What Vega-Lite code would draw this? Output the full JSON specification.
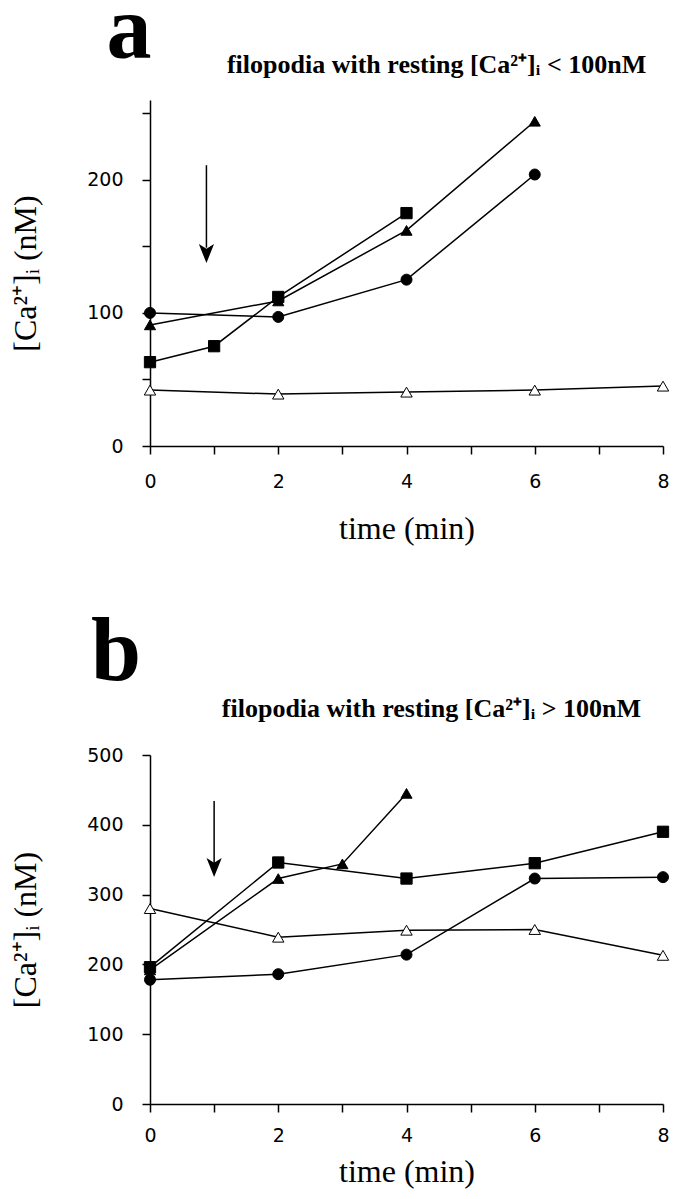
{
  "$schema": "https://vega.github.io/schema/vega-lite/v6.json",
  "background": "white",
  "padding": {"left": 9, "top": -14, "right": 5, "bottom": 2},
  "spacing": 63,
  "datasets": {
    "a": [
      {"series": "filled circle", "time": 0, "ca": 100},
      {"series": "filled circle", "time": 2, "ca": 97},
      {"series": "filled circle", "time": 4, "ca": 125},
      {"series": "filled circle", "time": 6, "ca": 204},
      {"series": "filled triangle", "time": 0, "ca": 91},
      {"series": "filled triangle", "time": 2, "ca": 109},
      {"series": "filled triangle", "time": 4, "ca": 162},
      {"series": "filled triangle", "time": 6, "ca": 244},
      {"series": "filled square", "time": 0, "ca": 63},
      {"series": "filled square", "time": 1, "ca": 75},
      {"series": "filled square", "time": 2, "ca": 112},
      {"series": "filled square", "time": 4, "ca": 175},
      {"series": "open triangle", "time": 0, "ca": 42},
      {"series": "open triangle", "time": 2, "ca": 39},
      {"series": "open triangle", "time": 4, "ca": 40.5},
      {"series": "open triangle", "time": 6, "ca": 42},
      {"series": "open triangle", "time": 8, "ca": 45}
    ],
    "b": [
      {"series": "filled circle", "time": 0, "ca": 178},
      {"series": "filled circle", "time": 2, "ca": 186},
      {"series": "filled circle", "time": 4, "ca": 214},
      {"series": "filled circle", "time": 6, "ca": 323},
      {"series": "filled circle", "time": 8, "ca": 325},
      {"series": "filled triangle", "time": 0, "ca": 192},
      {"series": "filled triangle", "time": 2, "ca": 323},
      {"series": "filled triangle", "time": 3, "ca": 344},
      {"series": "filled triangle", "time": 4, "ca": 445},
      {"series": "filled square", "time": 0, "ca": 196},
      {"series": "filled square", "time": 2, "ca": 346},
      {"series": "filled square", "time": 4, "ca": 323},
      {"series": "filled square", "time": 6, "ca": 345},
      {"series": "filled square", "time": 8, "ca": 390},
      {"series": "open triangle", "time": 0, "ca": 280},
      {"series": "open triangle", "time": 2, "ca": 239},
      {"series": "open triangle", "time": 4, "ca": 249},
      {"series": "open triangle", "time": 6, "ca": 250},
      {"series": "open triangle", "time": 8, "ca": 213}
    ]
  },
  "config": {
    "view": {"stroke": null},
    "axis": {
      "grid": false,
      "format": "d",
      "labelFlush": false,
      "labelOverlap": false,
      "domainColor": "black",
      "domainWidth": 1.5,
      "tickColor": "black",
      "tickWidth": 1.5,
      "tickSize": 8,
      "labelFont": "DejaVu Sans",
      "labelFontSize": 19,
      "labelColor": "black",
      "titleFont": "Liberation Serif",
      "titleFontSize": 32,
      "titleFontWeight": "normal",
      "titleColor": "black"
    }
  },
  "vconcat": [
    {
      "width": 513,
      "height": 346,
      "layer": [
        {
          "data": {"name": "a"},
          "mark": {"type": "line", "color": "black", "strokeWidth": 1.5},
          "encoding": {
            "x": {"field": "time", "type": "quantitative", "scale": {"domain": [0, 8]},
                  "axis": {"values": [0,1,2,3,4,5,6,7,8], "labelExpr": "datum.value % 2 == 0 ? datum.label : ''", "title": "time (min)", "labelPadding": 18, "titlePadding": 22}},
            "y": {"field": "ca", "type": "quantitative", "scale": {"domain": [0, 250]},
                  "axis": {"values": [0,50,100,150,200,250], "labelExpr": "datum.value % 100 == 0 ? datum.label : ''", "title": "[Ca²⁺]ᵢ (nM)", "labelPadding": 19, "titlePadding": 44}},
            "detail": {"field": "series"},
            "order": {"field": "time"}
          }
        },
        {
          "data": {"name": "a"},
          "mark": {"type": "point", "filled": true, "stroke": "black", "strokeWidth": 1, "opacity": 1},
          "encoding": {
            "x": {"field": "time", "type": "quantitative"},
            "y": {"field": "ca", "type": "quantitative"},
            "shape": {"field": "series", "scale": {"domain": ["filled circle", "filled triangle", "filled square", "open triangle"], "range": ["circle", "triangle-up", "square", "triangle-up"]}, "legend": null},
            "fill": {"field": "series", "scale": {"domain": ["filled circle", "filled triangle", "filled square", "open triangle"], "range": ["black", "black", "black", "white"]}, "legend": null},
            "size": {"field": "series", "type": "nominal", "scale": {"domain": ["filled circle", "filled triangle", "filled square", "open triangle"], "range": [121, 130, 40, 160]}, "legend": null}
          }
        },
        {
          "data": {"values": [{}]},
          "mark": {"type": "rule", "color": "black", "strokeWidth": 1.5},
          "encoding": {"x": {"datum": 0.88}, "y": {"datum": 211}, "y2": {"datum": 149}}
        },
        {
          "data": {"values": [{}]},
          "mark": {"type": "point", "filled": true, "color": "black", "opacity": 1, "size": 361, "shape": "M0,1L-0.8,-1L0,-0.5L0.8,-1Z"},
          "encoding": {"x": {"datum": 0.88}, "y": {"datum": 144.6}}
        },
        {
          "data": {"values": [{}]},
          "mark": {"type": "text", "text": "a", "font": "Liberation Serif", "fontWeight": "bold", "fontSize": 90, "align": "left", "baseline": "alphabetic", "color": "black", "clip": false},
          "encoding": {"x": {"datum": -0.68}, "y": {"datum": 291.5}}
        },
        {
          "data": {"values": [{}]},
          "mark": {"type": "text", "text": "filopodia with resting [Ca²⁺]ᵢ < 100nM", "font": "Liberation Serif", "fontWeight": "bold", "fontSize": 26, "align": "left", "baseline": "alphabetic", "color": "black", "clip": false},
          "encoding": {"x": {"datum": 1.2}, "y": {"datum": 280.6}}
        }
      ]
    },
    {
      "width": 513,
      "height": 349,
      "layer": [
        {
          "data": {"name": "b"},
          "mark": {"type": "line", "color": "black", "strokeWidth": 1.5},
          "encoding": {
            "x": {"field": "time", "type": "quantitative", "scale": {"domain": [0, 8]},
                  "axis": {"values": [0,1,2,3,4,5,6,7,8], "labelExpr": "datum.value % 2 == 0 ? datum.label : ''", "title": "time (min)", "labelPadding": 14, "titlePadding": 11}},
            "y": {"field": "ca", "type": "quantitative", "scale": {"domain": [0, 500]},
                  "axis": {"values": [0,50,100,150,200,250,300,350,400,450,500], "labelExpr": "datum.value % 100 == 0 ? datum.label : ''", "title": "[Ca²⁺]ᵢ (nM)", "labelPadding": 19, "titlePadding": 44}},
            "detail": {"field": "series"},
            "order": {"field": "time"}
          }
        },
        {
          "data": {"name": "b"},
          "mark": {"type": "point", "filled": true, "stroke": "black", "strokeWidth": 1, "opacity": 1},
          "encoding": {
            "x": {"field": "time", "type": "quantitative"},
            "y": {"field": "ca", "type": "quantitative"},
            "shape": {"field": "series", "scale": {"domain": ["filled circle", "filled triangle", "filled square", "open triangle"], "range": ["circle", "triangle-up", "square", "triangle-up"]}, "legend": null},
            "fill": {"field": "series", "scale": {"domain": ["filled circle", "filled triangle", "filled square", "open triangle"], "range": ["black", "black", "black", "white"]}, "legend": null},
            "size": {"field": "series", "type": "nominal", "scale": {"domain": ["filled circle", "filled triangle", "filled square", "open triangle"], "range": [100, 130, 121, 160]}, "legend": null}
          }
        },
        {
          "data": {"values": [{}]},
          "mark": {"type": "rule", "color": "black", "strokeWidth": 1.5},
          "encoding": {"x": {"datum": 1.0}, "y": {"datum": 434}, "y2": {"datum": 345}}
        },
        {
          "data": {"values": [{}]},
          "mark": {"type": "point", "filled": true, "color": "black", "opacity": 1, "size": 361, "shape": "M0,1L-0.8,-1L0,-0.5L0.8,-1Z"},
          "encoding": {"x": {"datum": 1.0}, "y": {"datum": 339}}
        },
        {
          "data": {"values": [{}]},
          "mark": {"type": "text", "text": "b", "font": "Liberation Serif", "fontWeight": "bold", "fontSize": 90, "align": "left", "baseline": "alphabetic", "color": "black", "clip": false},
          "encoding": {"x": {"datum": -0.92}, "y": {"datum": 608}}
        },
        {
          "data": {"values": [{}]},
          "mark": {"type": "text", "text": "filopodia with resting [Ca²⁺]ᵢ > 100nM", "font": "Liberation Serif", "fontWeight": "bold", "fontSize": 26, "align": "left", "baseline": "alphabetic", "color": "black", "clip": false},
          "encoding": {"x": {"datum": 1.12}, "y": {"datum": 555}}
        }
      ]
    }
  ]
}
